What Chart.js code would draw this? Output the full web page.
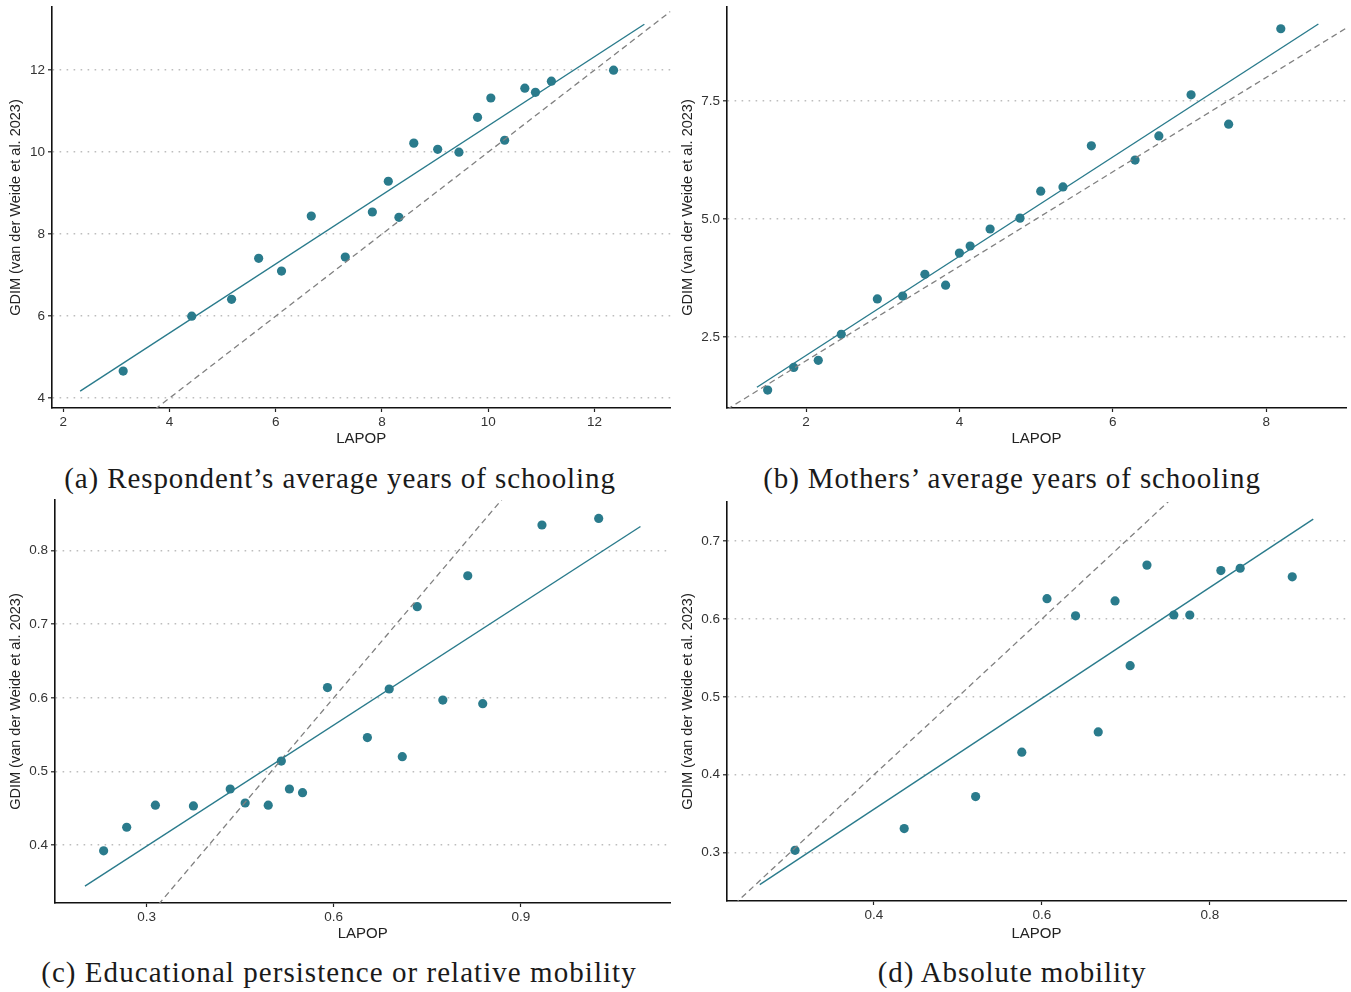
<!DOCTYPE html>
<html>
<head>
<meta charset="utf-8">
<script src="https://cdn.jsdelivr.net/npm/chart.js@4.4.1/dist/chart.umd.min.js"></script>
<style>
  body { margin: 0; background: #fff; }
  #page { position: relative; width: 1351px; height: 992px; }
  .panel { position: absolute; }
  .cap {
    position: absolute; width: 680px; text-align: center;
    font-family: "Liberation Serif", serif; font-size: 29px; line-height: 32px;
    letter-spacing: 0.9px; color: #1a1a1a;
  }
</style>
</head>
<body>
<div id="page">
  <div class="panel" style="left:0;top:0;width:675px;height:455px"><canvas id="cA"></canvas></div>
  <div class="panel" style="left:675px;top:0;width:676px;height:455px"><canvas id="cB"></canvas></div>
  <div class="panel" style="left:0;top:495px;width:675px;height:455px"><canvas id="cC"></canvas></div>
  <div class="panel" style="left:675px;top:495px;width:676px;height:455px"><canvas id="cD"></canvas></div>
  <div class="cap" style="left:0;top:462px">(a) Respondent’s average years of schooling</div>
  <div class="cap" style="left:672px;top:462px">(b) Mothers’ average years of schooling</div>
  <div class="cap" style="left:-1px;top:956px;letter-spacing:1.05px">(c) Educational persistence or relative mobility</div>
  <div class="cap" style="left:672px;top:956px">(d) Absolute mobility</div>
</div>
<script>
// (a) respondent's average years of schooling
const lapopA = [3.13, 4.42, 5.17, 5.68, 6.11, 6.67, 7.31, 7.82, 8.12, 8.32, 8.60, 9.05, 9.45, 9.80, 10.05, 10.31, 10.69, 10.89, 11.19, 12.36];
const gdimA  = [4.66, 6.00, 6.41, 7.41, 7.10, 8.44, 7.44, 8.54, 9.29, 8.41, 10.22, 10.07, 10.00, 10.85, 11.32, 10.29, 11.56, 11.46, 11.73, 12.00];
const fitXA = [2.32, 12.94];
const fitYA = [4.17, 13.12];
const xTicksA = [2, 4, 6, 8, 10, 12];
const yTicksA = [4, 6, 8, 10, 12];

// (b) mothers' average years of schooling
const lapopB = [1.50, 1.84, 2.16, 2.46, 2.93, 3.26, 3.55, 3.82, 4.00, 4.14, 4.40, 4.79, 5.06, 5.35, 5.72, 6.29, 6.60, 7.02, 7.51, 8.19];
const gdimB  = [1.38, 1.86, 2.01, 2.56, 3.31, 3.37, 3.83, 3.60, 4.28, 4.43, 4.79, 5.02, 5.59, 5.68, 6.55, 6.25, 6.76, 7.63, 7.01, 9.03];
const fitXB = [1.36, 8.68];
const fitYB = [1.44, 9.13];
const xTicksB = [2, 4, 6, 8];
const yTicksB = [2.5, 5.0, 7.5];

// (c) educational persistence
const lapopC = [0.231, 0.268, 0.314, 0.375, 0.434, 0.458, 0.495, 0.516, 0.529, 0.550, 0.590, 0.654, 0.689, 0.710, 0.734, 0.775, 0.815, 0.839, 0.934, 1.025];
const gdimC  = [0.392, 0.424, 0.454, 0.453, 0.476, 0.457, 0.454, 0.514, 0.476, 0.471, 0.614, 0.546, 0.612, 0.520, 0.724, 0.597, 0.766, 0.592, 0.835, 0.844];
const fitXC = [0.201, 1.092];
const fitYC = [0.344, 0.833];
const xTicksC = [0.3, 0.6, 0.9];
const yTicksC = [0.4, 0.5, 0.6, 0.7, 0.8];

// (d) absolute mobility
const lapopD = [0.306, 0.436, 0.521, 0.576, 0.606, 0.640, 0.667, 0.687, 0.705, 0.725, 0.757, 0.776, 0.813, 0.836, 0.898];
const gdimD  = [0.303, 0.331, 0.372, 0.429, 0.626, 0.604, 0.455, 0.623, 0.540, 0.669, 0.605, 0.605, 0.662, 0.665, 0.654];
const fitXD = [0.264, 0.923];
const fitYD = [0.259, 0.728];
const xTicksD = [0.4, 0.6, 0.8];
const yTicksD = [0.3, 0.4, 0.5, 0.6, 0.7];

const teal = "#2a7b8c";
const sans = "Liberation Sans, Arial, sans-serif";
const tickFont = { family: sans, size: 13.5 };

function zip(xs, ys) {
  return xs.map((x, i) => ({ x: x, y: ys[i] }));
}

function makePanel(id, o) {
  new Chart(id, {
    type: "scatter",
    data: {
      datasets: [
        {
          type: "line",
          data: zip(o.fitX, o.fitY),
          borderColor: teal,
          borderWidth: 1.4,
          pointRadius: 0,
          fill: false
        },
        {
          type: "line",
          data: [{ x: o.xMin, y: o.xMin }, { x: o.xMax, y: o.xMax }],
          borderColor: "#808080",
          borderWidth: 1.3,
          borderDash: [6, 4],
          pointRadius: 0,
          fill: false
        },
        {
          data: zip(o.xs, o.ys),
          backgroundColor: teal,
          borderWidth: 0,
          pointRadius: 4.6
        }
      ]
    },
    options: {
      responsive: true,
      maintainAspectRatio: false,
      animation: false,
      events: [],
      layout: { padding: { left: 0, top: o.top, right: o.right, bottom: 0 } },
      plugins: { legend: { display: false }, tooltip: { enabled: false } },
      scales: {
        x: {
          type: "linear",
          min: o.xMin,
          max: o.xMax,
          afterBuildTicks: s => { s.ticks = o.xTicks.map(v => ({ value: v })); },
          afterFit: s => { s.height = o.xh; s.paddingLeft = 0; s.paddingRight = 0; },
          ticks: { font: tickFont, color: "#333", padding: 2, maxRotation: 0,
                   callback: v => o.xFmt(v) },
          grid: { drawOnChartArea: false, drawTicks: true, tickLength: 4,
                  tickColor: "#222", tickWidth: 1.2 },
          border: { display: true, color: "#111", width: 1.6 },
          title: { display: true, text: "LAPOP", color: "#222",
                   font: { family: sans, size: 15 },
                   padding: { top: 0, bottom: 7 } }
        },
        y: {
          type: "linear",
          min: o.yMin,
          max: o.yMax,
          afterBuildTicks: s => { s.ticks = o.yTicks.map(v => ({ value: v })); },
          afterFit: s => { s.width = o.yw; s.paddingTop = 0; s.paddingBottom = 0; },
          ticks: { font: tickFont, color: "#333", padding: 3,
                   callback: v => o.yFmt(v) },
          grid: { drawOnChartArea: true, color: "#bdbdbd", lineWidth: 1.6,
                  drawTicks: true, tickLength: 4,
                  tickColor: "#222", tickWidth: 1.2, tickBorderDash: [] },
          border: { display: true, color: "#111", width: 1.6, dash: [1.6, 5.4] },
          title: { display: true, text: "GDIM (van der Weide et al. 2023)", color: "#222",
                   font: { family: sans, size: 14.5 },
                   padding: { top: o.titlePad, bottom: 0 } }
        }
      }
    }
  });
}

const intFmt = v => String(v);
const oneFmt = v => v.toFixed(1);

makePanel("cA", { xs: lapopA, ys: gdimA, fitX: fitXA, fitY: fitYA, xTicks: xTicksA, yTicks: yTicksA,
  xMin: 1.79, xMax: 13.43, yMin: 3.76, yMax: 13.54, top: 7, right: 3, yw: 52, xh: 47, titlePad: 7,
  xFmt: intFmt, yFmt: intFmt });
makePanel("cB", { xs: lapopB, ys: gdimB, fitX: fitXB, fitY: fitYB, xTicks: xTicksB, yTicks: yTicksB,
  xMin: 0.97, xMax: 9.04, yMin: 1.0, yMax: 9.49, top: 7, right: 5, yw: 52, xh: 47, titlePad: 4,
  xFmt: intFmt, yFmt: oneFmt });
makePanel("cC", { xs: lapopC, ys: gdimC, fitX: fitXC, fitY: fitYC, xTicks: xTicksC, yTicks: yTicksC,
  xMin: 0.153, xMax: 1.14, yMin: 0.321, yMax: 0.869, top: 5, right: 3, yw: 55, xh: 47, titlePad: 7,
  xFmt: oneFmt, yFmt: oneFmt });
makePanel("cD", { xs: lapopD, ys: gdimD, fitX: fitXD, fitY: fitYD, xTicks: xTicksD, yTicks: yTicksD,
  xMin: 0.225, xMax: 0.962, yMin: 0.238, yMax: 0.75, top: 7, right: 5, yw: 52, xh: 49, titlePad: 4,
  xFmt: oneFmt, yFmt: oneFmt });
</script>
</body>
</html>
